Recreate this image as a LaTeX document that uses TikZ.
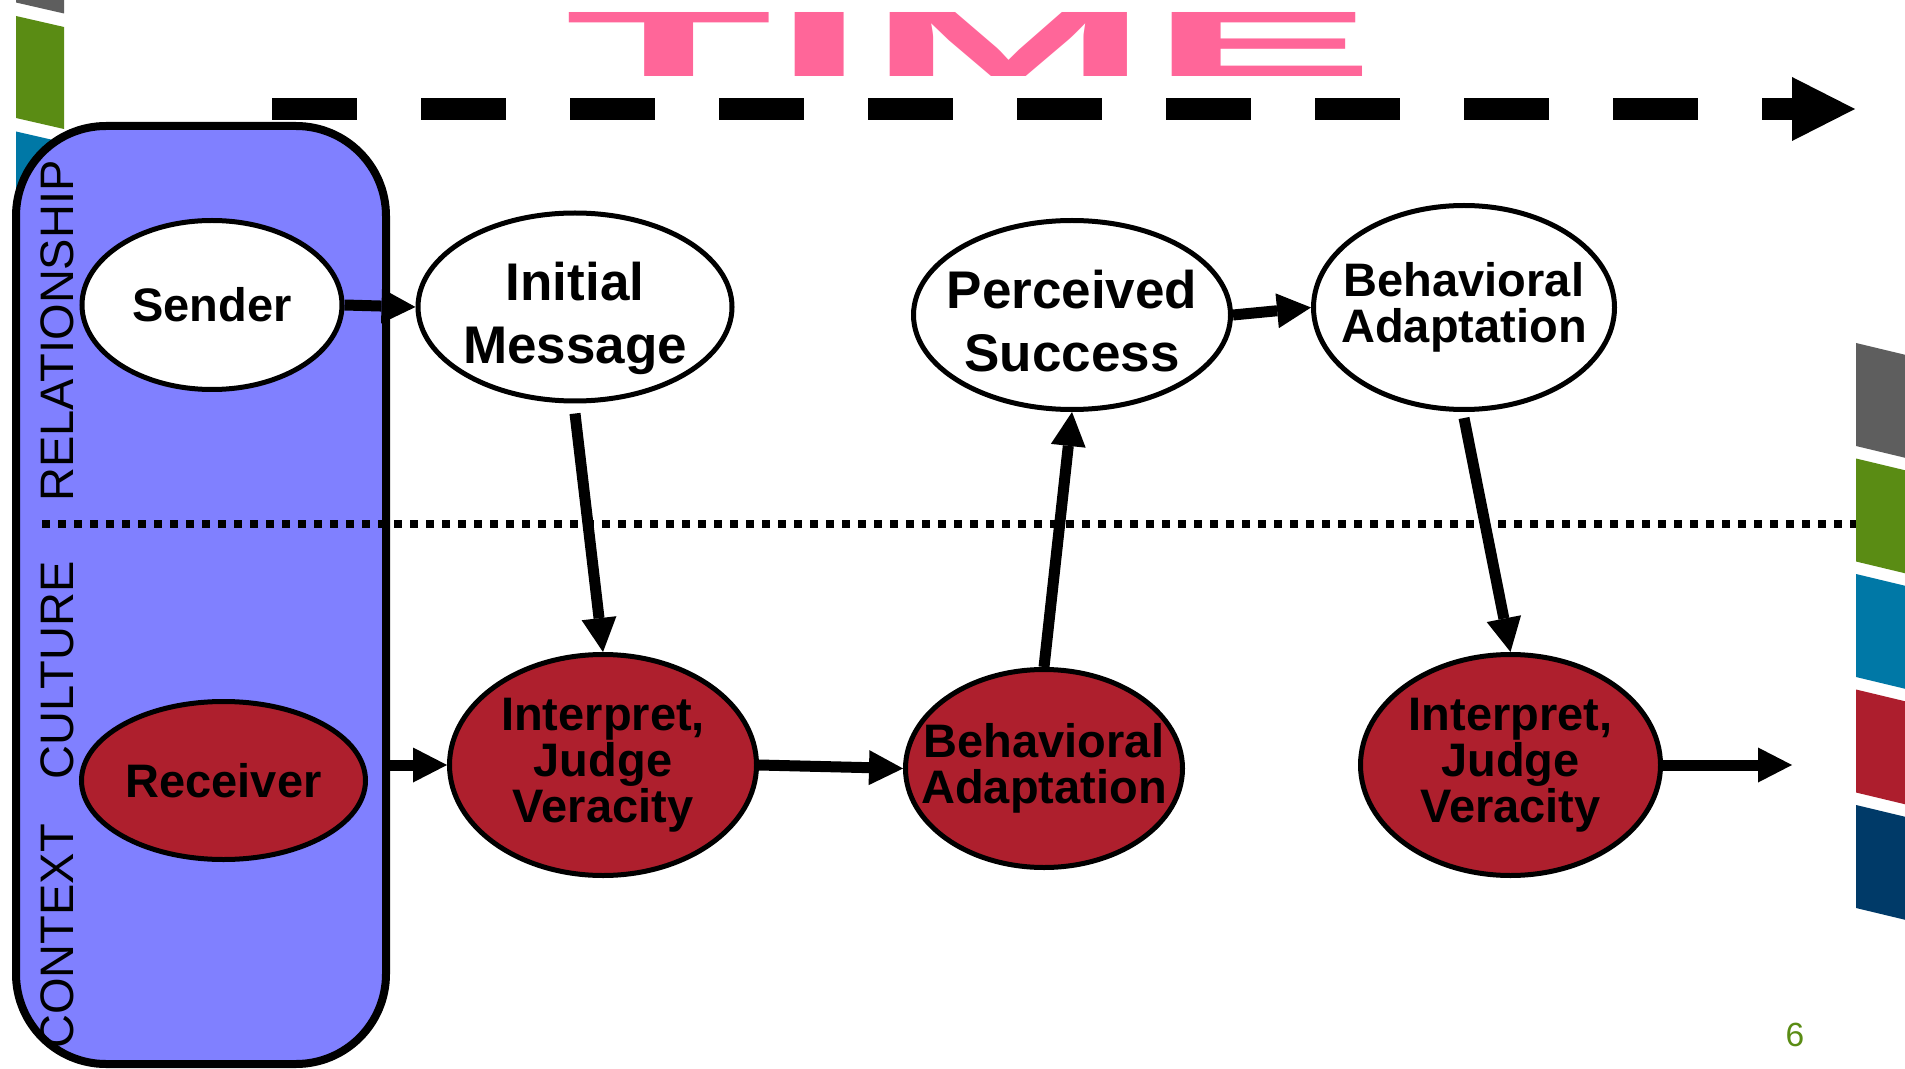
\documentclass[tikz,border=0pt]{standalone}
\usepackage{fontspec}
\setmainfont{Liberation Sans}
\usetikzlibrary{arrows.meta,shapes.geometric}
\definecolor{barGray}{HTML}{5E5E5E}
\definecolor{barGreen}{HTML}{5A8C14}
\definecolor{barTeal}{HTML}{0078A6}
\definecolor{barRed}{HTML}{AD1E2D}
\definecolor{barNavy}{HTML}{003A68}
\definecolor{ctxBlue}{HTML}{8080FF}
\definecolor{timePink}{HTML}{FF6699}
\definecolor{nodeRed}{HTML}{AE1F2D}
\tikzset{
  oval/.style={ellipse, draw=black, line width=2.5pt, inner sep=-30pt, align=center,
    font=\fontsize{23.5pt}{23pt}\selectfont\bfseries},
  ovalwhite/.style={oval, fill=white},
  ovalred/.style={oval, fill=nodeRed},
  bigtext/.style={font=\fontsize{26.5pt}{31.5pt}\selectfont\bfseries},
  flowarrow/.style={line width=5.5pt, -{Triangle[length=17pt,width=17.5pt,line width=0pt]}},
  timearrow/.style={line width=11pt, dash pattern=on 42.5pt off 32pt,
    -{Triangle[length=31.5pt,width=32pt,line width=0pt]}},
  dotline/.style={line width=4pt, dash pattern=on 4pt off 4pt},
  sidelabel/.style={rotate=90, anchor=base west, inner sep=0pt,
    font=\fontsize{23.5pt}{28pt}\selectfont},
  ctxbox/.style={draw=black, fill=ctxBlue, line width=4pt, rounded corners=45pt,
    minimum width=185pt, minimum height=469pt, inner sep=0pt},
}
\begin{document}
\begin{tikzpicture}[x=0.5pt, y=-0.5pt]
\useasboundingbox (0,0) rectangle (1905,1069);
\clip (0,0) rectangle (1905,1069);
\fill[white] (0,0) rectangle (1905,1069);

% left decorative bars
\fill[barGray]  (16,-99.5) -- (64,-88.5) -- (64,13.5) -- (16,2.5) -- cycle;
\fill[barGreen] (16,16) -- (64,27) -- (64,129) -- (16,118) -- cycle;
\fill[barTeal]  (16,131.5) -- (64,142.5) -- (64,244.5) -- (16,233.5) -- cycle;
\fill[barRed]   (16,247) -- (64,258) -- (64,360) -- (16,349) -- cycle;
\fill[barNavy]  (16,362.5) -- (64,373.5) -- (64,475.5) -- (16,464.5) -- cycle;

% right decorative bars
\fill[barGray]  (1856,343) -- (1906,355) -- (1906,458) -- (1856,446) -- cycle;
\fill[barGreen] (1856,458.5) -- (1906,470.5) -- (1906,573.5) -- (1856,561.5) -- cycle;
\fill[barTeal]  (1856,574) -- (1906,586) -- (1906,689) -- (1856,677) -- cycle;
\fill[barRed]   (1856,689.5) -- (1906,701.5) -- (1906,804.5) -- (1856,792.5) -- cycle;
\fill[barNavy]  (1856,805) -- (1906,817) -- (1906,920) -- (1856,908) -- cycle;

% context box
\node[ctxbox] (ctx) at (201,595) {};
\node[sidelabel] (lblcontext) at (73,1049) {CONTEXT};
\node[sidelabel] (lblculture) at (73,780) {CULTURE};
\node[sidelabel] (lblrelation) at (73,502) {RELATIONSHIP};

% dotted divider
\coordinate (dl) at (42,524);
\coordinate (dr) at (1856,524);
\draw[dotline] (dl) -- (dr);

% TIME title and arrow
\node[inner sep=0pt, text=timePink, anchor=west] (time) at (565,44)
  {\resizebox{405pt}{32pt}{\bfseries TIME}};
\coordinate (tstart) at (272,109);
\coordinate (tend) at (1855,109);
\draw[timearrow] (tstart) -- (tend);

% nodes
\node[ovalwhite, minimum width=130pt, minimum height=84.5pt] (sender) at (212,305) {Sender};
\node[ovalwhite, bigtext, minimum width=157pt, minimum height=94pt] (initial) at (575,307)
  {\rule{0pt}{31pt}Initial\\Message};
\node[ovalwhite, bigtext, minimum width=158.5pt, minimum height=94.5pt] (perceived) at (1072,315)
  {\rule{0pt}{25pt}Perceived\\Success};
\node[ovalwhite, minimum width=150.5pt, minimum height=102pt] (batop) at (1464,307.5) {Behavioral\\Adaptation};
\node[ovalred, minimum width=142pt, minimum height=79pt] (receiver) at (223.5,780.5) {Receiver};
\node[ovalred, minimum width=153.5pt, minimum height=110.5pt] (interp1) at (603,765) {Interpret,\\Judge\\Veracity};
\node[ovalred, minimum width=138.5pt, minimum height=99pt] (bared) at (1044,768.5) {Behavioral\\Adaptation};
\node[ovalred, minimum width=150pt, minimum height=110.5pt] (interp2) at (1510.5,765) {Interpret,\\Judge\\Veracity};

% page number
\node[inner sep=0pt, text=barGreen, font=\fontsize{16.75pt}{20pt}\selectfont] (pnum) at (1795,1035) {6};

% connectors
\coordinate (outend) at (1792,765);
\draw[flowarrow] (sender.east) -- (initial.west);
\draw[flowarrow] ([yshift=-5pt]initial.south) -- (interp1.north);
\draw[flowarrow] (ctx.east |- interp1.west) -- (interp1.west);
\draw[flowarrow] (interp1.east) -- (bared.west);
\draw[flowarrow] (bared.north) -- (perceived.south);
\draw[flowarrow] (perceived.east) -- (batop.west);
\draw[flowarrow] ([yshift=-3pt]batop.south) -- (interp2.north);
\draw[flowarrow] (interp2.east) -- (outend);
\end{tikzpicture}
\end{document}
